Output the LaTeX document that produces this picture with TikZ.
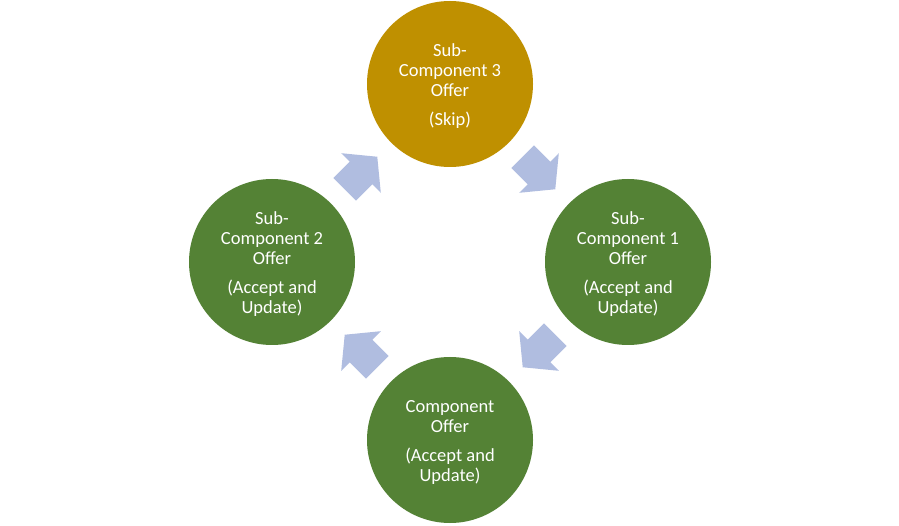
\documentclass[tikz,border=0pt]{standalone}
\usepackage{fontspec}
\setmainfont{Carlito}
\definecolor{gold}{HTML}{BF9000}
\definecolor{leaf}{HTML}{548235}
\definecolor{arrowblue}{HTML}{B0BDE0}
\tikzset{
  stage/.style={circle, minimum size=166pt, inner sep=0pt},
  stagetext/.style={text=white, align=center, inner sep=0pt,
    font=\fontsize{18.5}{20}\selectfont},
  cyclearrow/.style={fill=arrowblue, draw=none},
}
\newcommand{\cyclearrowshape}[3]{%
  \begin{scope}[shift={(#1,#2)}, rotate=#3]
    \fill[cyclearrow] (-23,16) -- (0,16) -- (0,28) -- (23,0) -- (0,-28) -- (0,-16) -- (-23,-16) -- cycle;
  \end{scope}}
\begin{document}
\begin{tikzpicture}[x=1pt, y=1pt]
  \useasboundingbox (0,0) rectangle (899,525);
  \fill[white] (0,0) rectangle (899,525);
  \node[stage, fill=gold] (top) at (450,441) {};
  \node[stage, fill=leaf] (right) at (628,263) {};
  \node[stage, fill=leaf] (bottom) at (450,85) {};
  \node[stage, fill=leaf] (left) at (272,263) {};
  \node[stagetext] (toptext) at ([yshift=-2.5pt]top.center) {Sub-\\Component 3\\Offer\\[9pt](Skip)};
  \node[stagetext] (righttext) at ([yshift=-2pt]right.center) {Sub-\\Component 1\\Offer\\[9pt](Accept and\\Update)};
  \node[stagetext] (bottomtext) at ([yshift=-2pt]bottom.center) {Component\\Offer\\[9pt](Accept and\\Update)};
  \node[stagetext] (lefttext) at ([yshift=-2pt]left.center) {Sub-\\Component 2\\Offer\\[9pt](Accept and\\Update)};
  \cyclearrowshape{539}{352}{-45}
  \cyclearrowshape{539}{174}{-135}
  \cyclearrowshape{361}{174}{135}
  \cyclearrowshape{361}{352}{45}
\end{tikzpicture}
\end{document}
